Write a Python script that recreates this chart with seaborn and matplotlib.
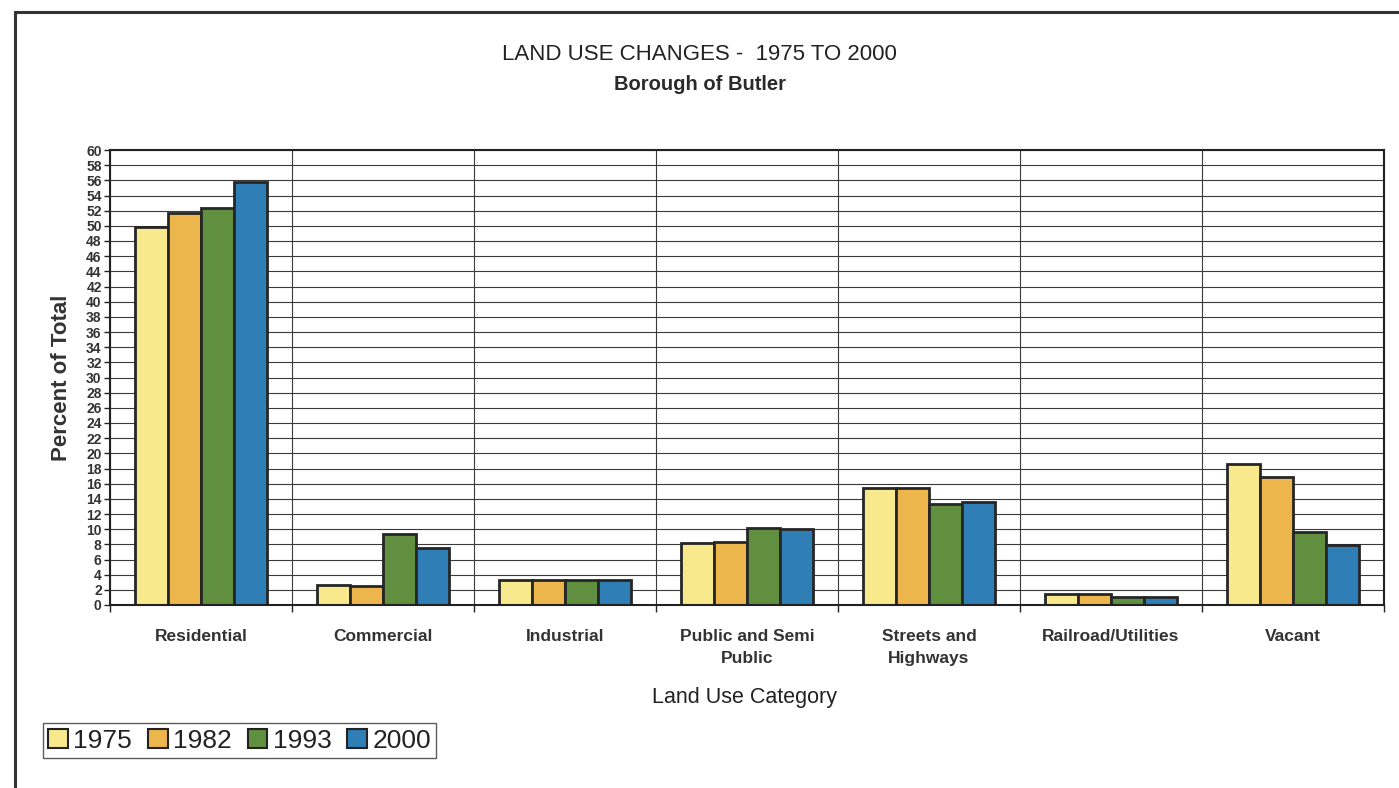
import numpy as np
import pandas as pd
import matplotlib
matplotlib.use("Agg")
import matplotlib.pyplot as plt
import seaborn as sns
from matplotlib.patches import Rectangle

categories = ["Residential", "Commercial", "Industrial", "Public and Semi\nPublic",
              "Streets and\nHighways", "Railroad/Utilities", "Vacant"]
years = ["1975", "1982", "1993", "2000"]
v1975 = [49.8, 2.6, 3.3, 8.2, 15.4, 1.5, 18.6]
v1982 = [51.7, 2.5, 3.3, 8.3, 15.4, 1.5, 16.9]
v1993 = [52.4, 9.4, 3.3, 10.2, 13.3, 1.0, 9.6]
v2000 = [55.8, 7.5, 3.3, 10.0, 13.6, 1.0, 7.9]
colors = ["#F8E98C", "#EDB64C", "#5F8F3F", "#2F7EB6"]

rows = []
for yr, vals in zip(years, [v1975, v1982, v1993, v2000]):
    for c, v in zip(categories, vals):
        rows.append({"Category": c, "Year": yr, "Value": v})
df = pd.DataFrame(rows)

sns.set_style("white")
plt.rcParams["font.family"] = ["Liberation Sans", "DejaVu Sans"]

fig = plt.figure(figsize=(13.99, 7.88), dpi=100)
ax = fig.add_axes([110/1399, 1-605/788, (1384-110)/1399, (605-150)/788])

sns.barplot(data=df, x="Category", y="Value", hue="Year", order=categories,
            hue_order=years, palette=colors, edgecolor="#262626", linewidth=2.0,
            width=0.72, gap=0, ax=ax, saturation=1)

handles, labels = ax.get_legend_handles_labels()
if ax.get_legend() is not None:
    ax.get_legend().remove()

ax.set_ylim(0, 60)
ax.set_xlim(-0.5, len(categories) - 0.5)
ax.set_yticks(np.arange(0, 61, 2))
ax.set_yticklabels([str(v) for v in range(0, 61, 2)], fontsize=10, fontweight="bold",
                   color="#333333")
ax.tick_params(axis="y", direction="out", length=4, width=1, pad=2, left=True, color="#222222")
ax.set_xticks(range(len(categories)))
ax.set_xticklabels(categories, fontsize=12.5, fontweight="bold", color="#333333",
                   linespacing=1.6)
ax.tick_params(axis="x", which="major", length=0, pad=17)
ax.set_xticks(np.arange(-0.5, len(categories), 1), minor=True)
ax.tick_params(axis="x", which="minor", direction="out", length=5, width=1, bottom=True,
               color="#222222")

ax.set_axisbelow(True)
ax.grid(True, axis="y", which="major", color="#3a3a3a", linewidth=0.8)
ax.grid(True, axis="x", which="minor", color="#3a3a3a", linewidth=0.8)
ax.grid(False, axis="x", which="major")
for s in ax.spines.values():
    s.set_visible(True)
    s.set_color("#222222")
    s.set_linewidth(1.5)

ax.set_ylabel("Percent of Total", fontsize=16, fontweight="bold", color="#333333", labelpad=10)
ax.set_xlabel("Land Use Category", fontsize=15.5, color="#222222")
ax.xaxis.set_label_coords((745-110)/1274, (605-687)/455)

fig.text(0.5, 1-54/788, "LAND USE CHANGES -  1975 TO 2000", ha="center", va="center",
         fontsize=16, color="#222222")
fig.text(0.5, 1-85/788, "Borough of Butler", ha="center", va="center",
         fontsize=14.5, fontweight="bold", color="#2a2a2a")

leg = fig.legend(handles, labels, loc="lower left",
                 bbox_to_anchor=(43/1399, 1-758/788), ncol=4, fontsize=19,
                 frameon=True, fancybox=False, edgecolor="#333333",
                 handlelength=0.75, handleheight=0.75, handletextpad=0.2,
                 columnspacing=0.6, borderpad=0.2, borderaxespad=0)
leg.get_frame().set_linewidth(1.0)
for t in leg.get_texts():
    t.set_color("#222222")
for h in leg.legend_handles:
    h.set_edgecolor("#222222")
    h.set_linewidth(1.5)

fig.patches.append(Rectangle((15/1399, -0.05), 1.2, 1.05 - 12/788, transform=fig.transFigure,
                             fill=False, edgecolor="#333333", linewidth=2.2))

fig.savefig("out.png", dpi=100, facecolor="white")
